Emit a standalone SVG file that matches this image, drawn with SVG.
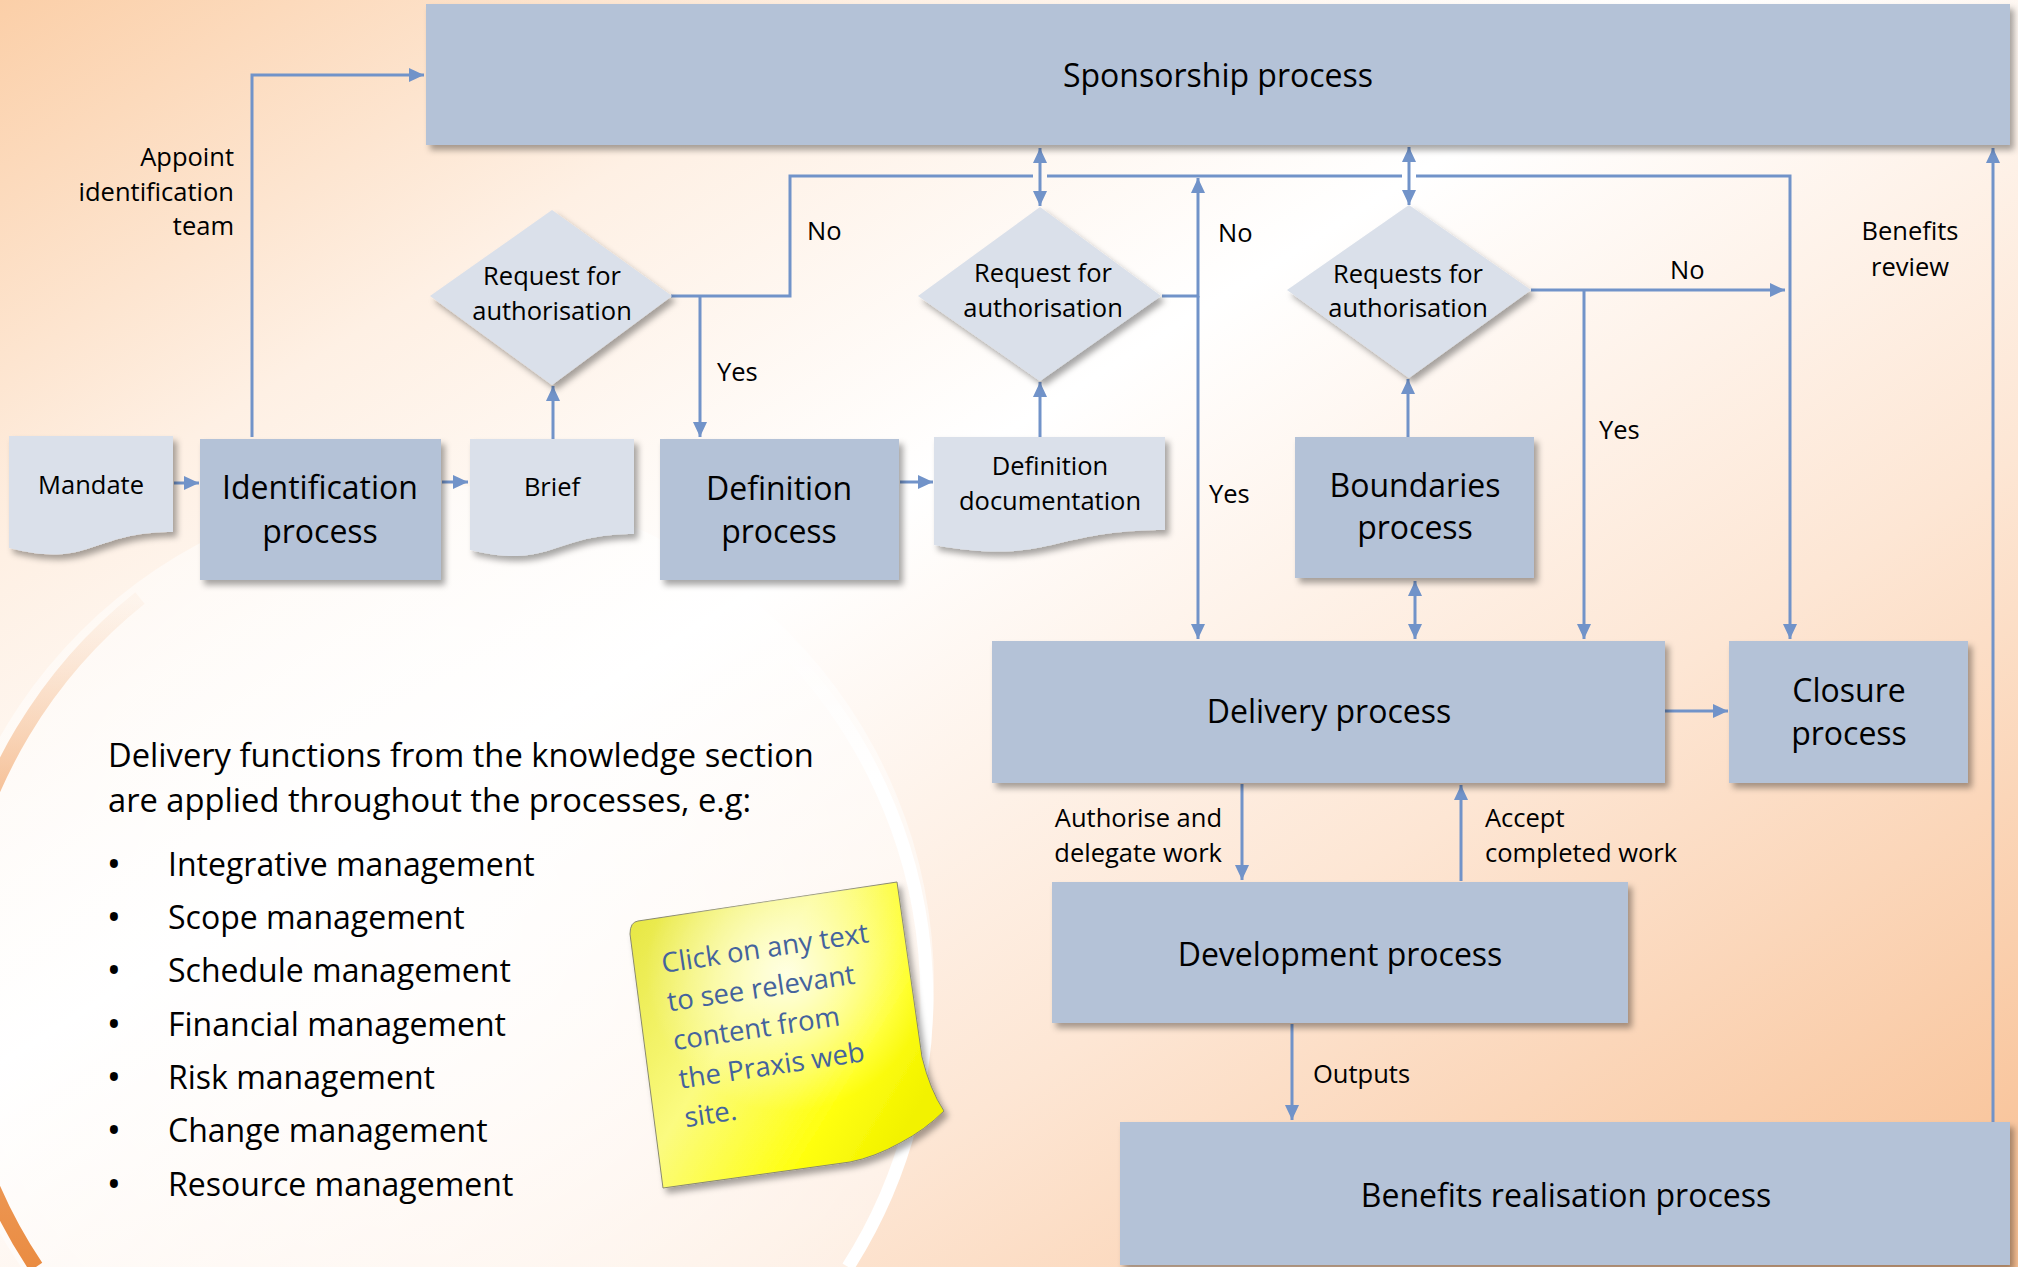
<svg xmlns="http://www.w3.org/2000/svg" width="2018" height="1267" viewBox="0 0 2018 1267">
<defs>
  <linearGradient id="bg" x1="0" y1="0" x2="1" y2="1">
    <stop offset="0" stop-color="#fbcfa8"/>
    <stop offset="0.22" stop-color="#fef0e4"/>
    <stop offset="0.42" stop-color="#ffffff"/>
    <stop offset="0.68" stop-color="#fde6d4"/>
    <stop offset="1" stop-color="#f8bf92"/>
  </linearGradient>
  <radialGradient id="circFill" cx="0.5" cy="0.45" r="0.55">
    <stop offset="0" stop-color="#ffffff" stop-opacity="0.85"/>
    <stop offset="1" stop-color="#ffffff" stop-opacity="0.45"/>
  </radialGradient>
  <linearGradient id="orangeArc" gradientUnits="userSpaceOnUse" x1="0" y1="600" x2="0" y2="1267">
    <stop offset="0" stop-color="#f6c39a" stop-opacity="0.1"/>
    <stop offset="0.3" stop-color="#f2aa72" stop-opacity="0.75"/>
    <stop offset="1" stop-color="#ea8c42" stop-opacity="1"/>
  </linearGradient>
  <linearGradient id="whiteArc" gradientUnits="userSpaceOnUse" x1="0" y1="630" x2="0" y2="780">
    <stop offset="0" stop-color="#ffffff" stop-opacity="0"/>
    <stop offset="1" stop-color="#ffffff" stop-opacity="1"/>
  </linearGradient>
  <linearGradient id="noteBase" x1="0" y1="0" x2="1" y2="0.6">
    <stop offset="0" stop-color="#e4e43c"/>
    <stop offset="0.45" stop-color="#fbfb80"/>
    <stop offset="0.8" stop-color="#ffff10"/>
    <stop offset="1" stop-color="#f2f200"/>
  </linearGradient>
  <radialGradient id="noteHi" cx="0.5" cy="0.3" r="0.45">
    <stop offset="0" stop-color="#ffffe8" stop-opacity="0.95"/>
    <stop offset="1" stop-color="#ffffe8" stop-opacity="0"/>
  </radialGradient>
  <filter id="sh" x="-10%" y="-10%" width="125%" height="135%">
    <feDropShadow dx="4" dy="5" stdDeviation="3" flood-color="#000000" flood-opacity="0.35"/>
  </filter>
  <marker id="arr" markerUnits="userSpaceOnUse" markerWidth="16" markerHeight="14" refX="15" refY="7" orient="auto-start-reverse">
    <path d="M0,0 L15,7 L0,14 Z" fill="#7193c9"/>
  </marker>
  <style>
    .box { fill:#b4c2d7; filter:url(#sh); }
    .lite { fill:#dae0ea; filter:url(#sh); }
    .ln { fill:none; stroke:#7193c9; stroke-width:3; }
    .t { font-family:"Open Sans","Liberation Sans",sans-serif; fill:#000; }
    .s { font-size:25.5px; }
    .b { font-size:32px; }
    .h { font-size:32.7px; }
    .bul { font-size:38px; }
    .m { text-anchor:middle; }
    .e { text-anchor:end; }
    .note { font-family:"Open Sans","Liberation Sans",sans-serif; font-size:27.5px; fill:#44639d; }
  </style>
</defs>

<rect x="0" y="0" width="2018" height="1267" fill="url(#bg)"/>
<g id="bg-circle">
  <circle cx="434" cy="985" r="500" fill="url(#circFill)"/>
  <path d="M 791,655 A 500 500 0 0 1 848,1267" fill="none" stroke="url(#whiteArc)" stroke-width="13"/>
  <path d="M 140,598 A 500 500 0 0 0 36,1267" fill="none" stroke="url(#orangeArc)" stroke-width="15"/>
</g>

<g id="connectors">
  <path class="ln" d="M252,437 V75 H424" marker-end="url(#arr)"/>
  <path class="ln" d="M174,483 H199" marker-end="url(#arr)"/>
  <path class="ln" d="M442,482 H468" marker-end="url(#arr)"/>
  <path class="ln" d="M553,439 V386" marker-end="url(#arr)"/>
  <path class="ln" d="M671,296 H790 V176 H1033"/>
  <path class="ln" d="M1047,176 H1402"/>
  <path class="ln" d="M1416,176 H1790 V639" marker-end="url(#arr)"/>
  <path class="ln" d="M700,296 V437" marker-end="url(#arr)"/>
  <path class="ln" d="M900,482 H933" marker-end="url(#arr)"/>
  <path class="ln" d="M1040,437 V382" marker-end="url(#arr)"/>
  <path class="ln" d="M1040,148 V206" marker-start="url(#arr)" marker-end="url(#arr)"/>
  <path class="ln" d="M1162,296 H1198 V178" marker-end="url(#arr)"/>
  <path class="ln" d="M1198,296 V639" marker-end="url(#arr)"/>
  <path class="ln" d="M1409,147 V205" marker-start="url(#arr)" marker-end="url(#arr)"/>
  <path class="ln" d="M1408,437 V379" marker-end="url(#arr)"/>
  <path class="ln" d="M1531,290 H1785" marker-end="url(#arr)"/>
  <path class="ln" d="M1584,290 V639" marker-end="url(#arr)"/>
  <path class="ln" d="M1415,581 V639" marker-start="url(#arr)" marker-end="url(#arr)"/>
  <path class="ln" d="M1665,711 H1728" marker-end="url(#arr)"/>
  <path class="ln" d="M1242,784 V880" marker-end="url(#arr)"/>
  <path class="ln" d="M1461,881 V785" marker-end="url(#arr)"/>
  <path class="ln" d="M1292,1024 V1120" marker-end="url(#arr)"/>
  <path class="ln" d="M1993,1122 V148" marker-end="url(#arr)"/>
</g>

<g id="labels">
  <text class="t s e" x="234" y="166">Appoint</text>
  <text class="t s e" x="234" y="201">identification</text>
  <text class="t s e" x="234" y="235">team</text>
  <text class="t s" x="807" y="240">No</text>
  <text class="t s" x="717" y="381">Yes</text>
  <text class="t s" x="1218" y="242">No</text>
  <text class="t s" x="1209" y="503">Yes</text>
  <text class="t s" x="1670" y="279">No</text>
  <text class="t s" x="1599" y="439">Yes</text>
  <text class="t s m" x="1910" y="240">Benefits</text>
  <text class="t s m" x="1910" y="276">review</text>
  <text class="t s e" x="1222" y="827">Authorise and</text>
  <text class="t s e" x="1222" y="862">delegate work</text>
  <text class="t s" x="1485" y="827">Accept</text>
  <text class="t s" x="1485" y="862">completed work</text>
  <text class="t s" x="1313" y="1083">Outputs</text>
</g>

<g id="sponsorship">
  <rect class="box" x="426" y="4" width="1584" height="141"/>
  <text class="t b m" x="1218" y="87">Sponsorship process</text>
</g>
<g id="mandate">
  <path class="lite" d="M9,436 H173 V532 C91,532 91,569 9,548 Z"/>
  <text class="t s m" x="91" y="494">Mandate</text>
</g>
<g id="identification">
  <rect class="box" x="200" y="439" width="241" height="141"/>
  <text class="t b m" x="320" y="499">Identification</text>
  <text class="t b m" x="320" y="543">process</text>
</g>
<g id="brief">
  <path class="lite" d="M470,439 H634 V534 C552,534 552,570 470,550 Z"/>
  <text class="t s m" x="552" y="496">Brief</text>
</g>
<g id="decision1">
  <path class="lite" d="M552,210 L672,296 L552,385 L430,296 Z"/>
  <text class="t s m" x="552" y="285">Request for</text>
  <text class="t s m" x="552" y="320">authorisation</text>
</g>
<g id="definition">
  <rect class="box" x="660" y="439" width="239" height="141"/>
  <text class="t b m" x="779" y="500">Definition</text>
  <text class="t b m" x="779" y="543">process</text>
</g>
<g id="definition-doc">
  <path class="lite" d="M934,437 H1165 V530 C1050,530 1050,566 934,545 Z"/>
  <text class="t s m" x="1050" y="475">Definition</text>
  <text class="t s m" x="1050" y="510">documentation</text>
</g>
<g id="decision2">
  <path class="lite" d="M1040,207 L1161,296 L1040,381 L918,296 Z"/>
  <text class="t s m" x="1043" y="282">Request for</text>
  <text class="t s m" x="1043" y="317">authorisation</text>
</g>
<g id="decision3">
  <path class="lite" d="M1409,205 L1531,290 L1409,378 L1287,290 Z"/>
  <text class="t s m" x="1408" y="283">Requests for</text>
  <text class="t s m" x="1408" y="317">authorisation</text>
</g>
<g id="boundaries">
  <rect class="box" x="1295" y="437" width="239" height="141"/>
  <text class="t b m" x="1415" y="497">Boundaries</text>
  <text class="t b m" x="1415" y="539">process</text>
</g>
<g id="delivery">
  <rect class="box" x="992" y="641" width="673" height="142"/>
  <text class="t b m" x="1329" y="723">Delivery process</text>
</g>
<g id="closure">
  <rect class="box" x="1729" y="641" width="239" height="142"/>
  <text class="t b m" x="1849" y="702">Closure</text>
  <text class="t b m" x="1849" y="745">process</text>
</g>
<g id="development">
  <rect class="box" x="1052" y="882" width="576" height="141"/>
  <text class="t b m" x="1340" y="966">Development process</text>
</g>
<g id="benefits-realisation">
  <rect class="box" x="1120" y="1122" width="890" height="143"/>
  <text class="t b m" x="1566" y="1207">Benefits realisation process</text>
</g>

<g id="functions-text">
  <text class="t h" x="108" y="767">Delivery functions from the knowledge section</text>
  <text class="t h" x="108" y="812">are applied throughout the processes, e.g:</text>
  <text class="t bul m" x="114" y="878">•</text>
  <text class="t b" x="168" y="876">Integrative management</text>
  <text class="t bul m" x="114" y="931">•</text>
  <text class="t b" x="168" y="929">Scope management</text>
  <text class="t bul m" x="114" y="984">•</text>
  <text class="t b" x="168" y="982">Schedule management</text>
  <text class="t bul m" x="114" y="1038">•</text>
  <text class="t b" x="168" y="1036">Financial management</text>
  <text class="t bul m" x="114" y="1091">•</text>
  <text class="t b" x="168" y="1089">Risk management</text>
  <text class="t bul m" x="114" y="1144">•</text>
  <text class="t b" x="168" y="1142">Change management</text>
  <text class="t bul m" x="114" y="1198">•</text>
  <text class="t b" x="168" y="1196">Resource management</text>
</g>

<g id="sticky-note">
  <path d="M638,921 L897,882 L922,1057 Q930,1090 944,1111 Q925,1130 900,1143 Q875,1157 850,1162 L663,1188 L630,934 Q630,922 638,921 Z" fill="url(#noteBase)" stroke="#8a8a70" stroke-width="1" filter="url(#sh)"/>
  <path d="M638,921 L897,882 L922,1057 Q930,1090 944,1111 Q925,1130 900,1143 Q875,1157 850,1162 L663,1188 L630,934 Q630,922 638,921 Z" fill="url(#noteHi)"/>
  <g transform="translate(663,973) rotate(-8.5)">
    <text class="note" x="0" y="0">Click on any text</text>
    <text class="note" x="0" y="39">to see relevant</text>
    <text class="note" x="0" y="78">content from</text>
    <text class="note" x="0" y="117">the Praxis web</text>
    <text class="note" x="0" y="156">site.</text>
  </g>
</g>
</svg>
